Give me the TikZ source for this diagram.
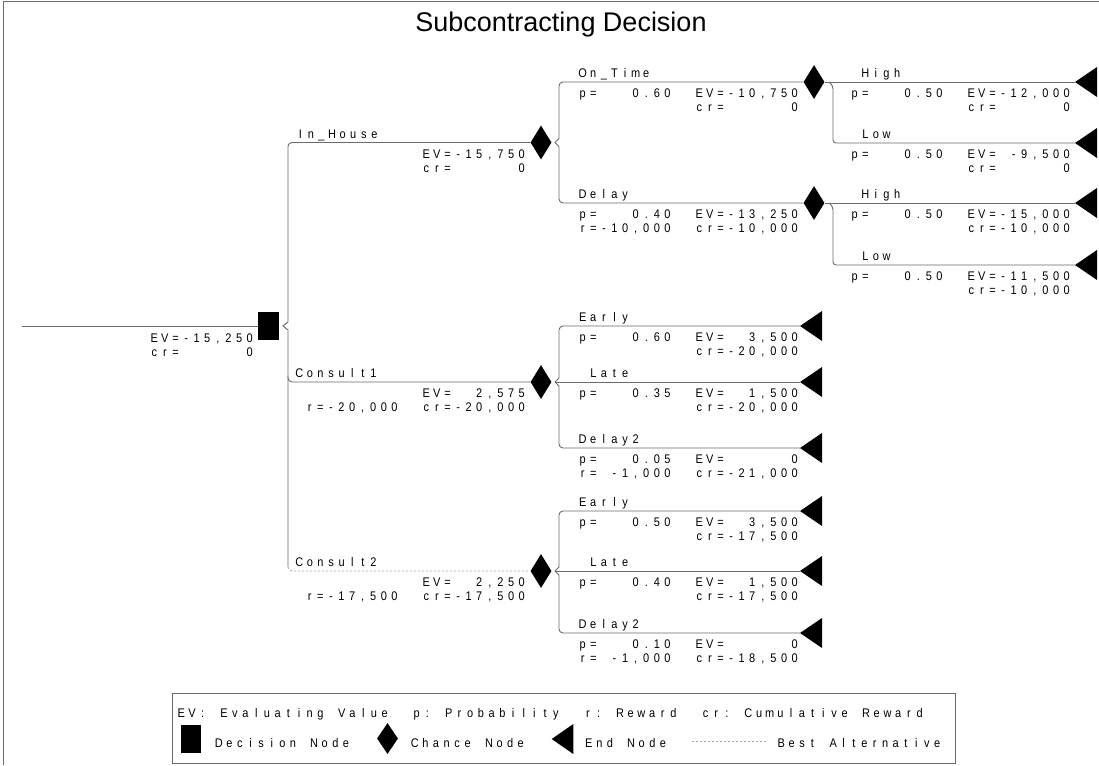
\documentclass[tikz,border=0pt]{standalone}
\usepackage{fontspec}
\usetikzlibrary{shapes.geometric}
\newfontfamily\plotfont[FakeStretch=0.88]{Liberation Sans}
\newfontfamily\titlefont{Liberation Sans}
\definecolor{linegray}{HTML}{6A6A6A}
\definecolor{dashgray}{HTML}{A8A8A8}
\ExplSyntaxOn
\dim_new:N \l_rs_pitch_dim
\NewDocumentCommand \mt { O{10.6pt} m }
  {
    \dim_set:Nn \l_rs_pitch_dim {#1}
    \str_map_inline:nn {#2}
      {
        \str_if_eq:nnTF {##1} {*}
          { \hbox_to_wd:nn { \l_rs_pitch_dim } { } }
          { \hbox_to_wd:nn { \l_rs_pitch_dim } { \hss ##1 \hss } }
      }
  }
\ExplSyntaxOff
\tikzset{
  ln/.style={draw=linegray, line width=0.9pt},
  dsh/.style={draw=dashgray, line width=0.8pt, dash pattern=on 2pt off 2pt},
  txt/.style={inner sep=0pt, outer sep=0pt, font=\plotfont\fontsize{12.5}{12.5}\selectfont},
  lab/.style={txt, anchor=base west},
  val/.style={txt, anchor=base east},
  chance/.style={diamond, fill=black, inner sep=0pt, minimum width=21pt, minimum height=34pt},
  decision/.style={rectangle, fill=black, inner sep=0pt, minimum width=21pt, minimum height=28pt},
  endtri/.style={fill=black},
}
\begin{document}
\begin{tikzpicture}[x=1pt, y=-1pt]
\useasboundingbox (0,0) rectangle (1099,765);
% frame
\coordinate (fTL) at (3.5,1.5);
\coordinate (fTR) at (1099,1.5);
\coordinate (fBL) at (3.5,765);
\draw[ln] (fTR) -- (fTL) -- (fBL);
% title
\node[inner sep=0pt, font=\titlefont\fontsize{27}{27}\selectfont] (title) at (561,25) {Subcontracting Decision};

% ---------------- root ----------------
\coordinate (start) at (22,326);
\node[decision] (D) at (268.5,326) {};
\draw[ln] (start) -- (D.west);
\node[val] (Dev) at (255,342) {\mt{EV=-15,250}};
\node[val] (Dcr) at (255,356) {\mt{cr=******0}};

% ---------------- level 1 ----------------
\node[chance] (C1) at (541,142.5) {};
\node[chance] (C2) at (541,382) {};
\node[chance] (C3) at (541,571) {};
\coordinate (b1a) at (288,142.5);
\coordinate (b1b) at (288,322);
\coordinate (b1t) at (283,326);
\coordinate (b1c) at (288,330);
\coordinate (b1d) at (288,567);
\coordinate (b1e) at (288,571);
\coordinate (b1m) at (288,376);
\coordinate (b1n) at (288,382);
\draw[ln, rounded corners=4] (C1.west) -- (b1a) -- (b1b);
\draw[ln] (b1b) -- (b1t) -- (b1c) -- (b1d);
\draw[ln, rounded corners=4] (b1m) -- (b1n) -- (C2.west);
\draw[dsh, rounded corners=4] (b1d) -- (b1e) -- (C3.west);

\node[lab] (lIH) at (295,138) {\mt{In_House}};
\node[val] (vIH1) at (527,158) {\mt{EV=-15,750}};
\node[val] (vIH2) at (527,172) {\mt{cr=******0}};
\node[lab] (lC1) at (294,377.5) {\mt{Consult1}};
\node[val] (vC11) at (527,397.5) {\mt{EV=**2,575}};
\node[val] (vC12) at (527,411.5) {\mt{r=-20,000**cr=-20,000}};
\node[lab] (lC2) at (294,566.5) {\mt{Consult2}};
\node[val] (vC21) at (527,586.5) {\mt{EV=**2,250}};
\node[val] (vC22) at (527,600.5) {\mt{r=-17,500**cr=-17,500}};

% ---------------- In_House chance ----------------
\node[chance] (C11) at (814,82) {};
\node[chance] (C12) at (814,203) {};
\coordinate (b2a) at (559,82);
\coordinate (b2b) at (559,138.5);
\coordinate (b2t) at (555,142.5);
\coordinate (b2c) at (559,146.5);
\coordinate (b2d) at (559,203);
\draw[ln, rounded corners=4] (C11.west) -- (b2a) -- (b2b);
\draw[ln] (b2b) -- (b2t) -- (b2c);
\draw[ln, rounded corners=4] (b2c) -- (b2d) -- (C12.west);

\node[lab] (lOT) at (577.4,77.5) {\mt{On_Time}};
\node[val] (vOT1) at (800,97.5) {\mt{p=***0.60**EV=-10,750}};
\node[val] (vOT2) at (800,111.5) {\mt{cr=******0}};
\node[lab] (lDL) at (577.4,198.5) {\mt{Delay}};
\node[val] (vDL1) at (800,218.5) {\mt{p=***0.40**EV=-13,250}};
\node[val] (vDL2) at (800,232.5) {\mt{r=-10,000**cr=-10,000}};

% On_Time branches
\coordinate (T1) at (1075,82);
\coordinate (T2) at (1075,143);
\coordinate (b3t) at (829,82);
\coordinate (b3a) at (833,86);
\coordinate (b3b) at (833,143);
\draw[ln] (C11.east) -- (T1);
\draw[ln, rounded corners=3] (b3t) -- (b3a) -- (b3b) -- (T2);
\node[lab] (lH1) at (849.4,77.5) {\mt{*High}};
\node[val] (vH11) at (1072,97.5) {\mt{p=***0.50**EV=-12,000}};
\node[val] (vH12) at (1072,111.5) {\mt{cr=******0}};
\node[lab] (lL1) at (849.4,138.5) {\mt{*Low}};
\node[val] (vL11) at (1072,158.5) {\mt{p=***0.50**EV=*-9,500}};
\node[val] (vL12) at (1072,172.5) {\mt{cr=******0}};

% Delay branches
\coordinate (T3) at (1075,203);
\coordinate (T4) at (1075,265);
\coordinate (b4t) at (829,203);
\coordinate (b4a) at (833,207);
\coordinate (b4b) at (833,265);
\draw[ln] (C12.east) -- (T3);
\draw[ln, rounded corners=3] (b4t) -- (b4a) -- (b4b) -- (T4);
\node[lab] (lH2) at (849.4,198.5) {\mt{*High}};
\node[val] (vH21) at (1072,218.5) {\mt{p=***0.50**EV=-15,000}};
\node[val] (vH22) at (1072,232.5) {\mt{cr=-10,000}};
\node[lab] (lL2) at (849.4,260.5) {\mt{*Low}};
\node[val] (vL21) at (1072,280.5) {\mt{p=***0.50**EV=-11,500}};
\node[val] (vL22) at (1072,294.5) {\mt{cr=-10,000}};

% ---------------- Consult1 chance ----------------
\coordinate (T5) at (800,326);
\coordinate (T6) at (800,382);
\coordinate (T7) at (800,448);
\coordinate (b5a) at (559,326);
\coordinate (b5b) at (559,378);
\coordinate (b5t) at (555,382);
\coordinate (b5c) at (559,386);
\coordinate (b5d) at (559,448);
\draw[ln, rounded corners=4] (T5) -- (b5a) -- (b5b);
\draw[ln] (b5b) -- (b5t) -- (b5c);
\draw[ln, rounded corners=4] (b5c) -- (b5d) -- (T7);
\draw[ln] (b5t) -- (T6);
\node[lab] (lE1) at (577.4,321.5) {\mt{Early}};
\node[val] (vE11) at (800,341.5) {\mt{p=***0.60**EV=**3,500}};
\node[val] (vE12) at (800,355.5) {\mt{cr=-20,000}};
\node[lab] (lLa1) at (577.4,377.5) {\mt{*Late}};
\node[val] (vLa11) at (800,397.5) {\mt{p=***0.35**EV=**1,500}};
\node[val] (vLa12) at (800,411.5) {\mt{cr=-20,000}};
\node[lab] (lD1) at (577.4,443.5) {\mt{Delay2}};
\node[val] (vD11) at (800,463.5) {\mt{p=***0.05**EV=******0}};
\node[val] (vD12) at (800,477.5) {\mt{r=*-1,000**cr=-21,000}};

% ---------------- Consult2 chance ----------------
\coordinate (T8) at (800,511);
\coordinate (T9) at (800,571);
\coordinate (T10) at (800,633);
\coordinate (b6a) at (559,511);
\coordinate (b6b) at (559,567);
\coordinate (b6t) at (555,571);
\coordinate (b6c) at (559,575);
\coordinate (b6d) at (559,633);
\draw[ln, rounded corners=4] (T8) -- (b6a) -- (b6b);
\draw[ln] (b6b) -- (b6t) -- (b6c);
\draw[ln, rounded corners=4] (b6c) -- (b6d) -- (T10);
\draw[ln] (b6t) -- (T9);
\node[lab] (lE2) at (577.4,506.5) {\mt{Early}};
\node[val] (vE21) at (800,526.5) {\mt{p=***0.50**EV=**3,500}};
\node[val] (vE22) at (800,540.5) {\mt{cr=-17,500}};
\node[lab] (lLa2) at (577.4,566.5) {\mt{*Late}};
\node[val] (vLa21) at (800,586.5) {\mt{p=***0.40**EV=**1,500}};
\node[val] (vLa22) at (800,600.5) {\mt{cr=-17,500}};
\node[lab] (lD2) at (577.4,628.5) {\mt{Delay2}};
\node[val] (vD21) at (800,648.5) {\mt{p=***0.10**EV=******0}};
\node[val] (vD22) at (800,662.5) {\mt{r=*-1,000**cr=-18,500}};

% end nodes
\foreach \t in {T1,T2,T3,T4,T5,T6,T7,T8,T9,T10}{
  \fill[endtri] (\t) -- ++(22,-15) -- ++(0,30) -- cycle;
}

% ---------------- legend ----------------
\node[draw=linegray, line width=0.9pt, anchor=north west, inner sep=0pt,
      minimum width=783pt, minimum height=70pt] (legend) at (172,692.5) {};
\node[lab] (lg1) at (176,717.5) {\mt[10.7pt]{EV:*Evaluating*Value**p:*Probability**r:*Reward**cr:*Cumulative*Reward}};
\node[decision, minimum width=20pt, minimum height=28pt] (lgD) at (191,739) {};
\node[lab] (lgDt) at (213.5,747) {\mt{Decision*Node}};
\node[chance, minimum height=31pt] (lgC) at (387.5,738.5) {};
\node[lab] (lgCt) at (409.5,747) {\mt{Chance*Node}};
\coordinate (lgE) at (551.7,739);
\fill[endtri] (lgE) -- ++(21.6,-15) -- ++(0,30) -- cycle;
\node[lab] (lgEt) at (583.5,747) {\mt{End*Node}};
\coordinate (lgB1) at (692,741);
\coordinate (lgB2) at (767,741);
\draw[dsh] (lgB1) -- (lgB2);
\node[lab] (lgBt) at (776,747) {\mt[10.4pt]{Best*Alternative}};
\end{tikzpicture}
\end{document}
